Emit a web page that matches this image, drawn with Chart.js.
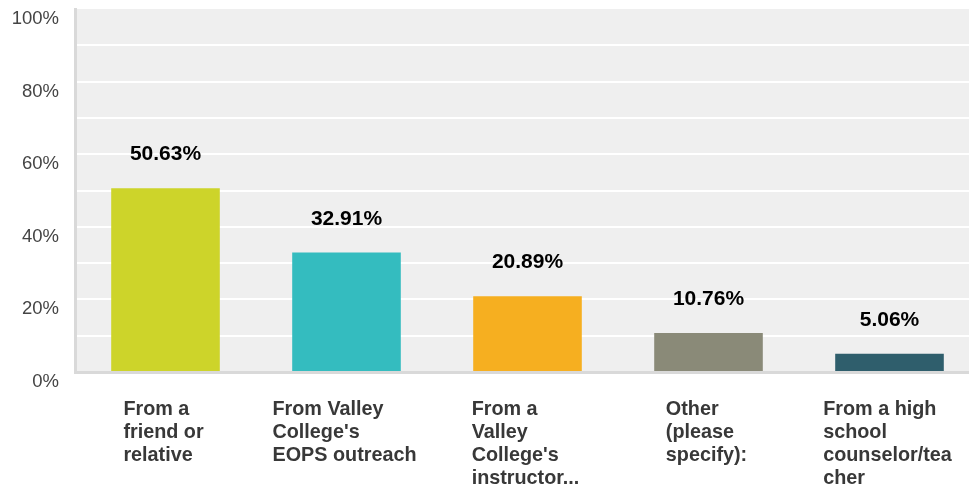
<!DOCTYPE html>
<html>
<head>
<meta charset="utf-8">
<script src="https://cdn.jsdelivr.net/npm/chart.js@4/dist/chart.umd.min.js"></script>
<style>
  html, body { margin: 0; padding: 0; background: #fff; overflow: hidden; }
  #wrap { width: 990px; height: 489px; }
</style>
</head>
<body>
<div id="wrap"><canvas id="c" width="990" height="489"></canvas></div>
<script>
const categories = [
  ["From a", "friend or", "relative"],
  ["From Valley", "College's", "EOPS outreach"],
  ["From a", "Valley", "College's", "instructor..."],
  ["Other", "(please", "specify):"],
  ["From a high", "school", "counselor/tea", "cher"]
];
const values = [50.63, 32.91, 20.89, 10.76, 5.06];
const valueLabels = ["50.63%", "32.91%", "20.89%", "10.76%", "5.06%"];
const barColors = ["#cdd42a", "#34bcbf", "#f6af20", "#8a8a78", "#2f5e6c"];
const yTickValues = [0, 20, 40, 60, 80, 100];

const FONT = '"Liberation Sans", Arial, Helvetica, sans-serif';

const bgPlugin = {
  id: 'bg',
  beforeDraw(chart) {
    const { ctx, chartArea: a } = chart;
    ctx.save();
    ctx.fillStyle = '#efefef';
    ctx.fillRect(a.left, a.top, a.right - a.left, a.bottom - a.top);
    ctx.restore();
  }
};

const labelPlugin = {
  id: 'labels',
  afterDraw(chart) {
    const { ctx, chartArea: a } = chart;
    const xs = chart.scales.x;
    const meta = chart.getDatasetMeta(0);
    ctx.save();
    ctx.font = 'bold 21px ' + FONT;
    ctx.fillStyle = '#000';
    ctx.textAlign = 'center';
    ctx.textBaseline = 'alphabetic';
    meta.data.forEach((bar, i) => {
      ctx.fillText(valueLabels[i], bar.x, bar.y - 28);
    });
    ctx.font = 'bold 19.8px ' + FONT;
    ctx.fillStyle = '#383838';
    ctx.textAlign = 'left';
    categories.forEach((lines, i) => {
      const cx = xs.getPixelForValue(i);
      const maxW = Math.max(...lines.map(l => ctx.measureText(l).width));
      const left = cx - maxW / 2 - 2;
      lines.forEach((l, k) => {
        ctx.fillText(l, left, a.bottom + 43 + 23 * k);
      });
    });
    ctx.restore();
  }
};

new Chart(document.getElementById('c'), {
  type: 'bar',
  data: {
    labels: categories.map(c => c.join(' ')),
    datasets: [{
      data: values,
      backgroundColor: barColors,
      borderWidth: 0,
      categoryPercentage: 1,
      barPercentage: 0.6
    }]
  },
  options: {
    responsive: false,
    animation: false,
    layout: { padding: { top: 9, right: 10, left: 0, bottom: 0 } },
    plugins: { legend: { display: false }, tooltip: { enabled: false } },
    scales: {
      x: {
        grid: { display: false },
        border: { display: true, color: '#d9d9d9', width: 3 },
        ticks: { display: false },
        afterFit(s) { s.height = 117; s.paddingLeft = 0; s.paddingRight = 0; }
      },
      y: {
        min: 0,
        max: 100,
        ticks: {
          stepSize: 10,
          callback: v => yTickValues.includes(v) ? v + '%' : '',
          font: { family: FONT, size: 18.5 },
          color: '#444',
          padding: 16,
          labelOffset: 10
        },
        grid: {
          drawTicks: false,
          color: ctx => (ctx.tick && ctx.tick.value === 100) ? 'rgba(0,0,0,0)' : '#ffffff',
          lineWidth: 2
        },
        border: { display: true, color: '#d9d9d9', width: 3 },
        afterFit(s) { s.width = 75; s.paddingTop = 0; s.paddingBottom = 0; }
      }
    }
  },
  plugins: [bgPlugin, labelPlugin]
});
</script>
</body>
</html>
